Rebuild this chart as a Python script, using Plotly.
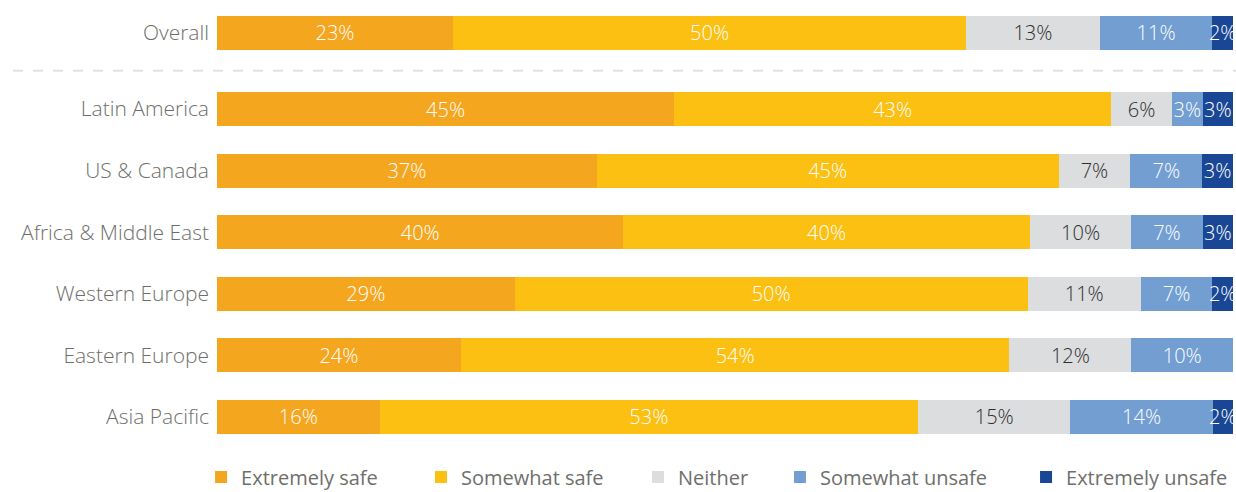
import plotly.graph_objects as go

# Regions, top to bottom as shown
regions = ["Overall", "Latin America", "US & Canada", "Africa & Middle East",
           "Western Europe", "Eastern Europe", "Asia Pacific"]
# Vertical slot of each row (Overall sits a little apart above the dashed rule)
row_pos = [6.242, 5, 4, 3, 2, 1, 0]

series_names = ["Extremely safe", "Somewhat safe", "Neither",
                "Somewhat unsafe", "Extremely unsafe"]
extremely_safe = [23, 45, 37, 40, 29, 24, 16]
somewhat_safe = [50, 43, 45, 40, 50, 54, 53]
neither = [13, 6, 7, 10, 11, 12, 15]
somewhat_unsafe = [11, 3, 7, 7, 7, 10, 14]
extremely_unsafe = [2, 3, 3, 3, 2, None, 2]

series_values = [extremely_safe, somewhat_safe, neither, somewhat_unsafe, extremely_unsafe]
colors = ["#F5A61F", "#FBC012", "#DCDDDF", "#729ED2", "#1A4795"]
text_colors = ["#FFFFFF", "#FFFFFF", "#2E2E2E", "#FFFFFF", "#FFFFFF"]

# one legend box per series, spread along the bottom edge
legend_ids = ["legend", "legend2", "legend3", "legend4", "legend5"]
legend_x = [-0.0157, 0.2008, 0.4144, 0.5541, 0.7963]

FONT = "'Open Sans', Lato, sans-serif"
LABEL_GREY = "#6E6F6B"

fig = go.Figure()
for name, vals, col, tcol, lid in zip(series_names, series_values, colors,
                                      text_colors, legend_ids):
    fig.add_trace(go.Bar(
        name=name,
        y=row_pos,
        x=vals,
        orientation="h",
        width=0.552,
        marker=dict(color=col, line=dict(width=0)),
        text=[f"{v}%" if v is not None else "" for v in vals],
        textposition="inside",
        insidetextanchor="middle",
        textangle=0,
        constraintext="none",
        textfont=dict(family=FONT, size=20, color=tcol, weight=300),
        hoverinfo="skip",
        legend=lid,
    ))

fig.add_shape(type="line", xref="paper", yref="y",
              x0=-0.2008, x1=1.003, y0=5.622, y1=5.622,
              line=dict(color="#E3E3E3", width=2, dash="10px,10px"))

legend_style = dict(
    orientation="h",
    xanchor="left",
    y=-0.06, yanchor="middle",
    font=dict(family=FONT, size=20, color=LABEL_GREY),
    itemwidth=30,
    bgcolor="rgba(0,0,0,0)",
)

fig.update_layout(
    barmode="stack",
    barnorm="percent",
    width=1236, height=492,
    margin=dict(l=217, r=3, t=0, b=42, autoexpand=False),
    paper_bgcolor="white",
    plot_bgcolor="white",
    font=dict(family=FONT),
    xaxis=dict(range=[0, 100], visible=False, fixedrange=True),
    yaxis=dict(
        range=[-0.536, 6.770],
        tickvals=row_pos,
        ticktext=regions,
        showgrid=False, zeroline=False, showline=False, ticks="",
        ticklabelstandoff=7,
        tickfont=dict(family=FONT, size=21, color=LABEL_GREY, weight=300),
        fixedrange=True,
    ),
    showlegend=True,
)
for lid, lx in zip(legend_ids, legend_x):
    fig.update_layout({lid: dict(legend_style, x=lx)})

fig.write_html("out.html")
